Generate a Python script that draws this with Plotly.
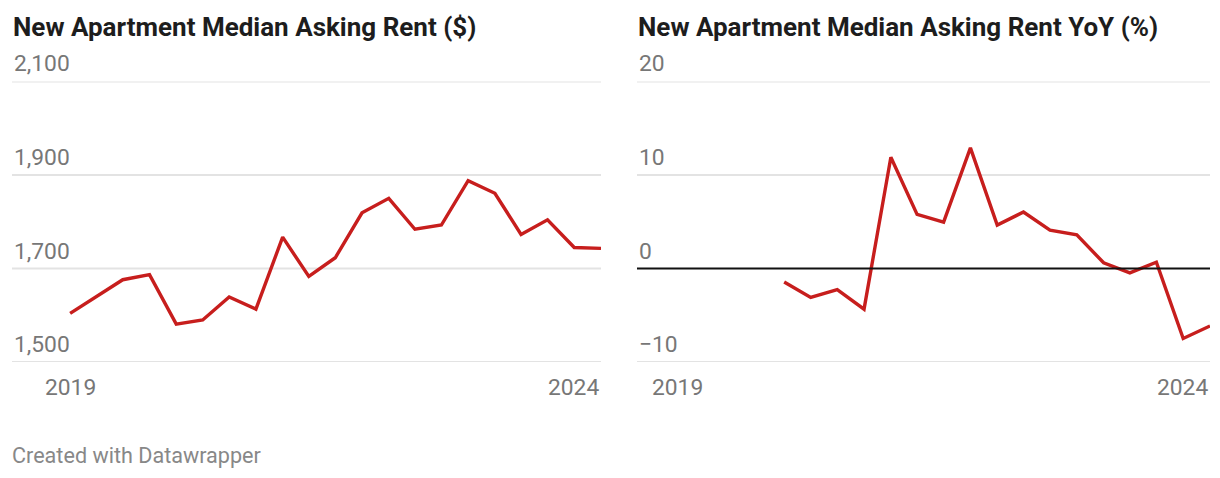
import plotly.graph_objects as go

# ---------------- data ----------------
rent_dates = ["2019-01-01", "2019-04-01", "2019-07-01", "2019-10-01",
              "2020-01-01", "2020-04-01", "2020-07-01", "2020-10-01",
              "2021-01-01", "2021-04-01", "2021-07-01", "2021-10-01",
              "2022-01-01", "2022-04-01", "2022-07-01", "2022-10-01",
              "2023-01-01", "2023-04-01", "2023-07-01", "2023-10-01",
              "2024-01-01"]
rent = [1604, 1640, 1676, 1687, 1581, 1590, 1639, 1613, 1767, 1683, 1723,
        1819, 1850, 1784, 1793, 1888, 1861, 1773, 1804, 1745, 1743]

yoy_dates = rent_dates[4:]
yoy = [-1.44, -3.09, -2.27, -4.35, 11.9, 5.79, 4.96, 12.9, 4.64, 6.04,
       4.10, 3.60, 0.61, -0.47, 0.68, -7.48, -6.15]

rent_ticks = [1500, 1700, 1900, 2100]
yoy_ticks = [-10, 0, 10, 20]
x_tick_dates = ["2019-01-01", "2024-01-01"]
x_tick_labels = ["2019", "2024"]

titles = ["New Apartment Median Asking Rent ($)",
          "New Apartment Median Asking Rent YoY (%)"]
footer = "Created with Datawrapper"

# ---------------- style ----------------
W, H = 1220, 478
RED = "#c71e1d"
GRID = "#e3e3e3"
LABEL = "#777777"
FONT = "Roboto"


def px(x):
    return x / W


def py(y):
    return 1 - y / H


fig = go.Figure()
fig.add_trace(go.Scatter(x=rent_dates, y=rent, mode="lines",
                         line=dict(color=RED, width=3.4),
                         xaxis="x", yaxis="y", hoverinfo="x+y"))
fig.add_trace(go.Scatter(x=yoy_dates, y=yoy, mode="lines",
                         line=dict(color=RED, width=3.4),
                         xaxis="x2", yaxis="y2", hoverinfo="x+y"))

ydom = [py(362), py(81.5)]
common_x = dict(showgrid=False, zeroline=False, showticklabels=False,
                ticks="", showline=False, type="date")
common_y = dict(showgrid=False, zeroline=False, showticklabels=False,
                ticks="", showline=False)

fig.update_layout(
    width=W, height=H,
    margin=dict(l=0, r=0, t=0, b=0),
    paper_bgcolor="white", plot_bgcolor="white",
    showlegend=False,
    font=dict(family=FONT, color=LABEL),
    xaxis=dict(domain=[px(12), px(601)], range=["2018-06-15", "2024-01-01"],
               anchor="y", **common_x),
    yaxis=dict(domain=ydom, range=[1500, 2100], anchor="x", **common_y),
    xaxis2=dict(domain=[px(637), px(1210)], range=["2018-08-14", "2024-01-01"],
                anchor="y2", **common_x),
    yaxis2=dict(domain=ydom, range=[-10, 20], anchor="x2", **common_y),
)


def fmt(v):
    s = f"{abs(v):,}"
    return ("\u2212" + s) if v < 0 else s


ann = []
shapes = []
for ax, ticks in (("", rent_ticks), ("2", yoy_ticks)):
    for v in ticks:
        zero = (ax == "2" and v == 0)
        shapes.append(dict(type="line", xref=f"x{ax} domain", yref=f"y{ax}",
                           x0=0, x1=1, y0=v, y1=v,
                           layer="above" if zero else "below",
                           line=dict(color="#111111" if zero else GRID,
                                     width=1.8 if zero else 2)))
        ann.append(dict(xref=f"x{ax} domain", yref=f"y{ax}", x=0, y=v,
                        xanchor="left", yanchor="bottom", yshift=2,
                        text=fmt(v), showarrow=False,
                        font=dict(family=FONT, size=22.8, color=LABEL)))
    for d, t in zip(x_tick_dates, x_tick_labels):
        ann.append(dict(xref=f"x{ax}", yref=f"y{ax} domain", x=d, y=0,
                        xanchor="center" if t == "2019" else "right",
                        yanchor="top", yshift=-10,
                        text=t, showarrow=False,
                        font=dict(family=FONT, size=22.8, color=LABEL)))

for t, x0 in zip(titles, (11, 636)):
    ann.append(dict(xref="paper", yref="paper", x=px(x0), y=py(27),
                    xanchor="left", yanchor="middle", text=f"<b>{t}</b>",
                    showarrow=False,
                    font=dict(family=FONT, size=26, color="#1d1d1d")))

ann.append(dict(xref="paper", yref="paper", x=px(10), y=py(455),
                xanchor="left", yanchor="middle", text=footer,
                showarrow=False, font=dict(family=FONT, size=21.6, color="#888888")))

fig.update_layout(annotations=ann, shapes=shapes)
fig.write_html("out.html")
